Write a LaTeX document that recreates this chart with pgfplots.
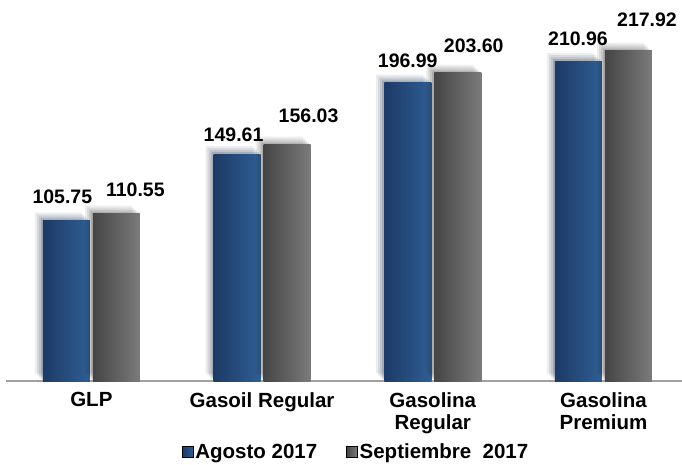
\documentclass[border=0pt]{standalone}
\usepackage{fontspec}
\setmainfont{Liberation Sans}
\usepackage{pgfplots}
\pgfplotsset{compat=1.18}
\definecolor{blueL}{HTML}{1D3A66}
\definecolor{blueR}{HTML}{2F5E94}
\definecolor{grayL}{HTML}{454545}
\definecolor{grayR}{HTML}{7B7B7B}
\definecolor{axisgray}{HTML}{A0A0A0}
\tikzset{softshadow/.style={
  preaction={fill=black, fill opacity=0.04, transform canvas={xshift=-8pt, yshift=8pt}},
  preaction={fill=black, fill opacity=0.05, transform canvas={xshift=-6pt, yshift=6pt}},
  preaction={fill=black, fill opacity=0.06, transform canvas={xshift=-4pt, yshift=4pt}},
  preaction={fill=black, fill opacity=0.08, transform canvas={xshift=-2pt, yshift=2pt}}}}
\pgfplotsset{
  barbase/.style={ybar, bar width=47pt, draw=none, softshadow, forget plot,
    nodes near coords, point meta=explicit symbolic},
  bluebar/.style 2 args={barbase, bar shift=-25pt, left color=blueL, right color=blueR,
    every node near coord/.append style={xshift=#1-25pt, yshift=#2}},
  graybar/.style 2 args={barbase, bar shift=25pt, left color=grayL, right color=grayR,
    every node near coord/.append style={xshift=#1+25pt, yshift=#2}},
}
\begin{document}
\begin{tikzpicture}
\useasboundingbox (0,0) rectangle (682pt,464pt);
\begin{axis}[
  at={(6pt,83pt)}, anchor=south west,
  scale only axis, width=676pt, height=381pt,
  xmin=-0.5, xmax=3.46, ymin=0, ymax=251.5,
  clip=false,
  hide y axis,
  axis x line*=bottom,
  x axis line style={draw=axisgray, line width=1.6pt, -},
  xtick={0,1,2,3},
  xticklabels={GLP, Gasoil Regular, {Gasolina\\Regular}, {Gasolina\\Premium}},
  xticklabel style={align=center, font=\fontsize{20.5}{22.6}\selectfont\bfseries, anchor=north, yshift=-8pt},
  major tick length=0pt,
  every node near coord/.append style={font=\fontsize{19.5}{22}\selectfont\bfseries, inner sep=0pt, text=black},
  legend columns=2,
  legend style={draw=none, fill=none, inner sep=0pt,
    at={(0.26,-0.2126)}, anchor=south west,
    font=\fontsize{20.5}{22.6}\selectfont\bfseries,
    nodes={inner sep=2pt},
    /tikz/every even column/.append style={column sep=27pt}},
]
\addplot[bluebar={-4pt}{17pt}] coordinates {(0,105.75)[105.75]};
\addplot[bluebar={-3.5pt}{12.5pt}] coordinates {(1,149.61)[149.61]};
\addplot[bluebar={0pt}{15pt}] coordinates {(2,196.99)[196.99]};
\addplot[bluebar={-0.5pt}{15.5pt}] coordinates {(3,210.96)[210.96]};
\addplot[graybar={19pt}{16.5pt}] coordinates {(0,110.55)[110.55]};
\addplot[graybar={21.5pt}{21.5pt}] coordinates {(1,156.03)[156.03]};
\addplot[graybar={16pt}{19.5pt}] coordinates {(2,203.60)[203.60]};
\addplot[graybar={18.5pt}{23.5pt}] coordinates {(3,217.92)[217.92]};
\addlegendimage{legend image code/.code={\shade[left color=blueL,right color=blueR] (0pt,-5.5pt) rectangle (11pt,5.5pt);}}
\addlegendentry{Agosto 2017}
\addlegendimage{legend image code/.code={\shade[left color=grayL,right color=grayR] (0pt,-5.5pt) rectangle (11pt,5.5pt);}}
\addlegendentry{Septiembre\ \ 2017}
\end{axis}
\end{tikzpicture}
\end{document}
